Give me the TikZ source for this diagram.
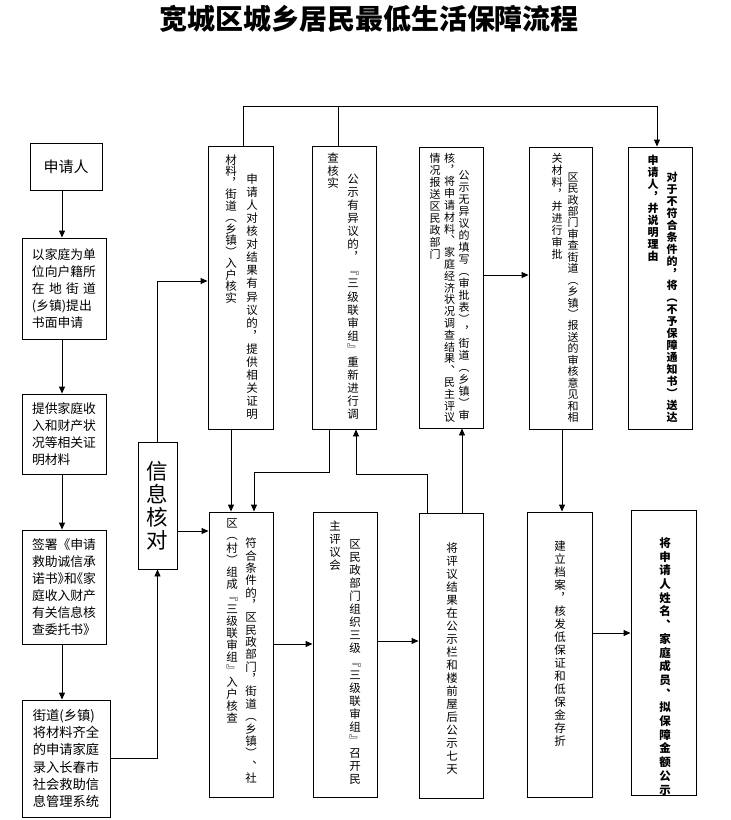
\documentclass[tikz,border=0pt]{standalone}
\usepackage{fontspec}
\setmainfont{Noto Sans CJK SC}
\usetikzlibrary{arrows.meta}
\ExplSyntaxOn
\dim_new:N \l__vc_p_dim
\box_new:N \l__vc_box
\cs_new_protected:Npn \h {}
\cs_new_protected:Npn \__vc_put:nn #1#2
  {
    \hbox_set:Nn \l__vc_box {#1}
    \box_set_ht:Nn \l__vc_box {0pt}
    \box_set_dp:Nn \l__vc_box {0pt}
    \skip_vertical:n { \dim_eval:n { (#2\l__vc_p_dim - 1em) / 2 + .88em } }
    \hbox_to_wd:nn {1em} { \hss \box_use_drop:N \l__vc_box \hss }
    \skip_vertical:n { \dim_eval:n { #2\l__vc_p_dim - ((#2\l__vc_p_dim - 1em) / 2 + .88em) } }
  }
\NewDocumentCommand \vcol { O{12.5pt} m }
  {
    \dim_set:Nn \l__vc_p_dim {#1}
    \vtop
      {
        \offinterlineskip
        \hbox:n {}
        \tl_map_inline:nn {#2}
          {
            \tl_if_head_eq_meaning:nNTF {##1} \h
              { \__vc_put:nn { \tl_tail:n {##1} } {0.5} }
              { \__vc_put:nn {##1} {1} }
          }
      }
  }
\ExplSyntaxOff
\tikzset{
  box/.style={draw, line width=0.9pt, inner sep=0pt, anchor=center},
  arr/.style={line width=0.9pt, -{Triangle[length=7pt,width=6pt]}},
  ln/.style={line width=0.9pt},
  vt/.style={inner sep=0pt, anchor=north, font=\fontsize{11.5}{13}\selectfont},
  vtb/.style={inner sep=0pt, anchor=north, font=\bfseries\fontsize{11.5}{13}\selectfont},
  htxt/.style={align=left, font=\fontsize{12.8}{17}\selectfont},
}
\begin{document}
\begin{tikzpicture}[x=1pt,y=-1pt]
\useasboundingbox (0,0) rectangle (731,820);
\node[font=\bfseries\fontsize{28}{30}\selectfont] (title) at (369,19) {宽城区城乡居民最低生活保障流程};

% left column
\node[box, minimum width=72pt, minimum height=47pt, font=\fontsize{15}{17}\selectfont] (p0) at (66,166.5) {申请人};
\node[box, htxt, minimum width=84pt, minimum height=101pt] (b2) at (64,288.5)
  {以家庭为单\\位向户籍所\\在\hspace{4.3pt}地\hspace{4.3pt}街\hspace{4.3pt}道\\(乡镇)提出\\书面申请};
\node[box, htxt, minimum width=84pt, minimum height=80pt] (b3) at (64,434)
  {提供家庭收\\入和财产状\\况等相关证\\明材料};
\node[box, htxt, minimum width=84pt, minimum height=114pt] (b4) at (64,587)
  {签署《申请\\救助诚信承\\诺书\makebox[0.5em][l]{》}和\makebox[0.5em][r]{《}家\\庭收入财产\\有关信息核\\查委托书》};
\node[box, align=left, font=\fontsize{13.3}{17.3}\selectfont, minimum width=88pt, minimum height=117pt] (b5) at (66,758.5)
  {街道(乡镇)\\将材料齐全\\的申请家庭\\录入长春市\\社会救助信\\息管理系统};
\node[box, align=center, font=\fontsize{21.5}{23}\selectfont, minimum width=39pt, minimum height=127pt] (info) at (157.5,505.5)
  {信\\息\\核\\对};

% top row boxes
\node[box, minimum width=65pt, minimum height=283pt] (A) at (240.5,287.5) {};
\node[box, minimum width=64pt, minimum height=283pt] (B) at (344,287.5) {};
\node[box, minimum width=64pt, minimum height=281pt] (C) at (451,287.5) {};
\node[box, minimum width=63pt, minimum height=282pt] (D) at (560.5,288) {};
\node[box, minimum width=64pt, minimum height=282pt] (E) at (660,288) {};
% bottom row boxes
\node[box, minimum width=64pt, minimum height=285pt] (F) at (241,654.5) {};
\node[box, minimum width=64pt, minimum height=285pt] (G) at (345,654.5) {};
\node[box, minimum width=64pt, minimum height=285pt] (H) at (451,655.5) {};
\node[box, minimum width=65pt, minimum height=285pt] (I) at (559.5,654.5) {};
\node[box, minimum width=65pt, minimum height=285pt] (J) at (663.5,652.5) {};

% vertical texts
\node[vt] (A1) at (252,172) {\vcol[13.1pt]{申请人对核对结果有异议的︐提供相关证明}};
\node[vt] (A2) at (231,154) {\vcol[11.5pt]{材料︐街道︵乡镇︶入户核实}};
\node[vt] (B1) at (353,172) {\vcol[13.1pt]{公示有异议的︐﹃三级联审组﹄重新进行调}};
\node[vt] (B2) at (333,152) {\vcol[12.5pt]{查核实}};
\node[vt, font=\fontsize{11}{12}\selectfont] (C1) at (464,169) {\vcol[12pt]{公示无异议的填写︵审批表︶︐街道︵乡镇︶审}};
\node[vt, font=\fontsize{11}{12}\selectfont] (C2) at (449.5,152) {\vcol[11.8pt]{核︐将申请材料︑家庭经济状况调查结果︑民主评议}};
\node[vt, font=\fontsize{11}{12}\selectfont] (C3) at (435,152) {\vcol[12pt]{情况报送区民政部门}};
\node[vt, font=\fontsize{11}{12}\selectfont] (D1) at (573,171) {\vcol[11.45pt]{区民政部门审查街道︵乡镇︶报送的审核意见和相}};
\node[vt, font=\fontsize{11}{12}\selectfont] (D2) at (557,152) {\vcol[12pt]{关材料︐并进行审批}};
\node[vtb, font=\bfseries\fontsize{11}{12}\selectfont] (E1) at (672,171) {\vcol[12pt]{对于不符合条件的︐将︵不予保障通知书︶送达}};
\node[vtb, font=\bfseries\fontsize{11}{12}\selectfont] (E2) at (653,154) {\vcol[12pt]{申请人︐并说明理由}};
\node[vt] (F1) at (251,537) {\vcol[12.35pt]{符合条件的︐区民政部门︐街道︵乡镇︶︑社}};
\node[vt] (F2) at (232,517) {\vcol[12.2pt]{区︵村︶组成﹃三级联审组﹄入户核查}};
\node[vt] (G1) at (355,537) {\vcol[13.1pt]{区民政部门组织三级﹃三级联审组﹄召开民}};
\node[vt] (G2) at (335,519) {\vcol[13.1pt]{主评议会}};
\node[vt] (H1) at (452,541) {\vcol[13.05pt]{将评议结果在公示栏和楼前屋后公示七天}};
\node[vt] (I1) at (560,539) {\vcol[13pt]{建立档案︐核发低保证和低保金存折}};
\node[vtb] (J1) at (665,536) {\vcol[13.7pt]{将申请人姓名︑家庭成员︑拟保障金额公示}};

% helper coordinates
\coordinate (cL) at (62,0);
\coordinate (yA) at (0,281);
\coordinate (yF) at (0,531);
\coordinate (t1) at (243,106);
\coordinate (t2) at (657,106);
\coordinate (t3) at (338,106);
\coordinate (yCD) at (0,275);
\coordinate (xAF) at (231,0);
\coordinate (k1) at (329,472);
\coordinate (k2) at (254,472);
\coordinate (m1) at (427,474);
\coordinate (m2) at (356,474);
\coordinate (xHC) at (462,0);
\coordinate (xDI) at (562,0);
\coordinate (yFG) at (0,644);
\coordinate (yGH) at (0,641);
\coordinate (yIJ) at (0,633);

% connectors
\draw[arr] (p0.south -| cL) -- (b2.north -| cL);
\draw[arr] (b2.south -| cL) -- (b3.north -| cL);
\draw[arr] (b3.south -| cL) -- (b4.north -| cL);
\draw[arr] (b4.south -| cL) -- (b5.north -| cL);
\draw[arr] (b5.east) -| (info.south);
\draw[arr] (info.north) |- (A.west |- yA);
\draw[arr] (info.east |- yF) -- (F.west |- yF);
\draw[arr] (A.north -| t1) -- (t1) -- (t2) -- (E.north -| t2);
\draw[ln] (B.north -| t3) -- (t3);
\draw[arr] (C.east |- yCD) -- (D.west |- yCD);
\draw[arr] (A.south -| xAF) -- (F.north -| xAF);
\draw[arr] (B.south -| k1) -- (k1) -- (k2) -- (F.north -| k2);
\draw[arr] (H.north -| m1) -- (m1) -- (m2) -- (B.south -| m2);
\draw[arr] (H.north -| xHC) -- (C.south -| xHC);
\draw[arr] (D.south -| xDI) -- (I.north -| xDI);
\draw[arr] (F.east |- yFG) -- (G.west |- yFG);
\draw[arr] (G.east |- yGH) -- (H.west |- yGH);
\draw[arr] (I.east |- yIJ) -- (J.west |- yIJ);
\end{tikzpicture}
\end{document}
